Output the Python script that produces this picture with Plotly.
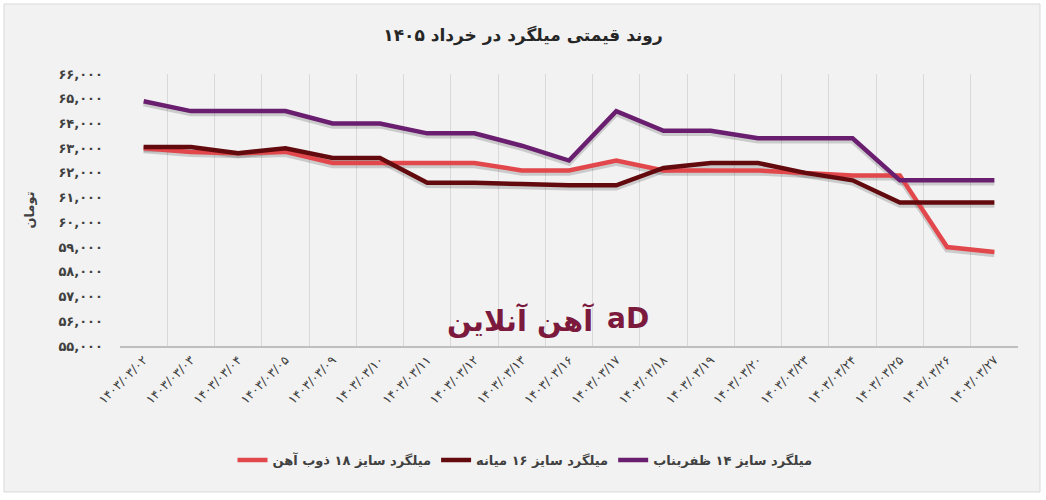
import plotly.graph_objects as go

dates = ["۱۴۰۳/۰۳/۰۲", "۱۴۰۳/۰۳/۰۳", "۱۴۰۳/۰۳/۰۴", "۱۴۰۳/۰۳/۰۵", "۱۴۰۳/۰۳/۰۹",
         "۱۴۰۳/۰۳/۱۰", "۱۴۰۳/۰۳/۱۱", "۱۴۰۳/۰۳/۱۲", "۱۴۰۳/۰۳/۱۳", "۱۴۰۳/۰۳/۱۶",
         "۱۴۰۳/۰۳/۱۷", "۱۴۰۳/۰۳/۱۸", "۱۴۰۳/۰۳/۱۹", "۱۴۰۳/۰۳/۲۰", "۱۴۰۳/۰۳/۲۳",
         "۱۴۰۳/۰۳/۲۴", "۱۴۰۳/۰۳/۲۵", "۱۴۰۳/۰۳/۲۶", "۱۴۰۳/۰۳/۲۷"]

size18_zob = [63000, 62850, 62800, 62850, 62400, 62400, 62400, 62400, 62100, 62100,
              62500, 62100, 62100, 62100, 62000, 61900, 61900, 59000, 58800]
size16_mianeh = [63050, 63050, 62800, 63000, 62600, 62600, 61600, 61600, 61550, 61500,
                 61500, 62200, 62400, 62400, 62000, 61700, 60800, 60800, 60800]
size14_zafar = [64900, 64500, 64500, 64500, 64000, 64000, 63600, 63600, 63100, 62500,
                64500, 63700, 63700, 63400, 63400, 63400, 61700, 61700, 61700]

series_names = ["میلگرد سایز ۱۸ ذوب آهن", "میلگرد سایز ۱۶ میانه", "میلگرد سایز ۱۴ ظفربناب"]
series_colors = ["#e2474b", "#620a0e", "#6a1e6f"]

y_tickvals = [55000, 56000, 57000, 58000, 59000, 60000, 61000, 62000, 63000, 64000, 65000, 66000]
y_ticktext = ["۵۵,۰۰۰", "۵۶,۰۰۰", "۵۷,۰۰۰", "۵۸,۰۰۰", "۵۹,۰۰۰", "۶۰,۰۰۰",
              "۶۱,۰۰۰", "۶۲,۰۰۰", "۶۳,۰۰۰", "۶۴,۰۰۰", "۶۵,۰۰۰", "۶۶,۰۰۰"]

title_text = "روند قیمتی میلگرد در خرداد ۱۴۰۵"
y_title = "تومان"
watermark = "آهن آنلاین"

FONT = "DejaVu Sans"
W, H = 1046, 500
L, R, T, B = 120, 28, 74, 154
pw, ph = W - L - R, H - T - B
Y0, Y1 = 55000, 66000
shadow_dy = 2.2 * (Y1 - Y0) / ph  # shadow drawn ~2px below the line

def px_x(p):
    return (p - L) / pw

def px_y(p):
    return (H - B - p) / ph

fig = go.Figure()
series = [size18_zob, size16_mianeh, size14_zafar]
# soft drop shadows (main subplot, underneath)
for vals in series:
    fig.add_trace(go.Scatter(x=dates, y=vals, mode="lines", showlegend=False, hoverinfo="skip",
                             line=dict(color="rgba(0,0,0,0.16)", width=6), xaxis="x", yaxis="y"))
for name, vals, col in zip(series_names, series, series_colors):
    fig.add_trace(go.Scatter(x=dates, y=vals, mode="lines", name=name,
                             line=dict(color=col, width=4.5), xaxis="x", yaxis="y2"))

fig.add_shape(type="rect", xref="paper", yref="paper",
              x0=px_x(4), x1=px_x(1040), y0=px_y(492), y1=px_y(4),
              line=dict(color="#d9d9d9", width=1), fillcolor="#f2f2f2", layer="below")

fig.add_annotation(xref="paper", yref="paper", x=px_x(520), y=px_y(340),
                   text="<b>" + watermark + "</b>", showarrow=False,
                   font=dict(family=FONT, size=29, color="#7b1a3d"))
fig.add_annotation(xref="paper", yref="paper", x=px_x(628), y=px_y(337),
                   text="<b>aD</b>", showarrow=False,
                   font=dict(family=FONT, size=28, color="#7b1a3d"))

fig.update_layout(
    width=W, height=H,
    margin=dict(l=L, r=R, t=T, b=B),
    paper_bgcolor="white", plot_bgcolor="rgba(0,0,0,0)",
    title=dict(text="<b>" + title_text + "</b>", x=0.5, xref="container", xanchor="center",
               y=1 - 35 / H, yref="container", yanchor="middle",
               font=dict(family=FONT, size=17, color="#262626")),
    showlegend=True,
    legend=dict(orientation="h", x=px_x(525), xanchor="center", y=px_y(460), yanchor="middle",
                font=dict(family=FONT, size=13, color="#404040", weight="bold"),
                bgcolor="rgba(0,0,0,0)", itemwidth=30, tracegroupgap=0),
    font=dict(family=FONT),
)

fig.update_layout(
    xaxis=dict(type="category", tickson="boundaries", range=[-0.5, len(dates) - 0.5],
               showgrid=True, gridcolor="#d9d9d9", gridwidth=1,
               showline=True, linecolor="#bfbfbf", linewidth=1.5,
               ticks="", tickangle=-45,
               tickfont=dict(family=FONT, size=12.5, color="#404040")),
    yaxis=dict(range=[Y0 + shadow_dy, Y1 + shadow_dy], showgrid=False, zeroline=False,
               showline=False, ticks="", showticklabels=False),
    yaxis2=dict(overlaying="y", side="left", anchor="x",
                range=[Y0, Y1], tickvals=y_tickvals, ticktext=y_ticktext,
                showgrid=False, zeroline=False, showline=False, ticks="",
                ticklabelstandoff=16,
                tickfont=dict(family=FONT, size=13, color="#404040", weight="bold"),
                title=dict(text="<b>" + y_title + "</b>", standoff=20,
                           font=dict(family=FONT, size=13, color="#404040"))),
)

fig.write_html("out.html")
